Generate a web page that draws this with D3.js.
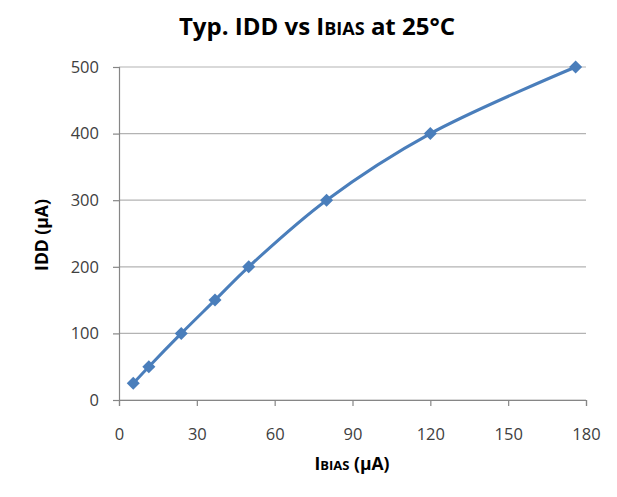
<!DOCTYPE html>
<html>
<head>
<meta charset="utf-8">
<script src="https://cdn.jsdelivr.net/npm/d3@7"></script>
<style>
body { margin: 0; background: #fff; }
text { font-family: "Open Sans", "Liberation Sans", sans-serif; }
</style>
</head>
<body>
<svg id="chart"></svg>
<script>
// data
var ibias = [5.5, 11.5, 24, 37, 50, 80, 120, 176];
var idd = [25, 50, 100, 150, 200, 300, 400, 500];
var xTicks = [0, 30, 60, 90, 120, 150, 180];
var yTicks = [0, 100, 200, 300, 400, 500];

var width = 617, height = 497;
var margin = {left: 119, right: 31, top: 67, bottom: 97};
var blue = "#4a7ebb";

var svg = d3.select("#chart")
    .attr("width", width)
    .attr("height", height);

var x = d3.scaleLinear().domain([0, 180]).range([margin.left, width - margin.right]);
var y = d3.scaleLinear().domain([0, 500]).range([height - margin.bottom, margin.top]);

// gridlines
svg.append("g")
    .selectAll("line")
    .data(yTicks)
    .enter()
    .append("line")
    .attr("x1", x(0))
    .attr("x2", x(180))
    .attr("y1", function (d) { return y(d); })
    .attr("y2", function (d) { return y(d); })
    .attr("stroke", "#b3b3b3")
    .attr("stroke-width", 1.2);

// y axis
var yAxis = svg.append("g")
    .attr("transform", "translate(" + x(0) + ",0)")
    .call(d3.axisLeft(y).tickValues(yTicks).tickSize(6).tickPadding(14));
// x axis
var xAxis = svg.append("g")
    .attr("transform", "translate(0," + y(0) + ")")
    .call(d3.axisBottom(x).tickValues(xTicks).tickSize(6).tickPadding(22));

[xAxis, yAxis].forEach(function (ax) {
    ax.select(".domain").attr("stroke", "#868686").attr("stroke-width", 1.2);
    ax.selectAll(".tick line").attr("stroke", "#868686").attr("stroke-width", 1.2);
    ax.selectAll(".tick text")
        .attr("fill", "#404040")
        .style("font-size", "16.5px")
        .style("font-family", "'Open Sans', sans-serif");
});

// curve
var pts = ibias.map(function (v, i) { return [v, idd[i]]; });
var line = d3.line()
    .x(function (d) { return x(d[0]); })
    .y(function (d) { return y(d[1]); })
    .curve(d3.curveCatmullRom.alpha(0.5));

svg.append("path")
    .datum(pts)
    .attr("d", line)
    .attr("fill", "none")
    .attr("stroke", blue)
    .attr("stroke-width", 3);

// diamond markers
svg.append("g")
    .selectAll("path")
    .data(pts)
    .enter()
    .append("path")
    .attr("d", d3.symbol().type(d3.symbolSquare).size(85))
    .attr("transform", function (d) {
        return "translate(" + x(d[0]) + "," + y(d[1]) + ") rotate(45)";
    })
    .attr("fill", blue);

// title
var title = svg.append("text")
    .attr("x", 317)
    .attr("y", 35)
    .attr("text-anchor", "middle")
    .style("font-size", "24px")
    .style("font-weight", "bold")
    .attr("fill", "#000");
title.append("tspan").text("Typ. IDD vs I");
title.append("tspan").style("font-size", "18px").text("BIAS");
title.append("tspan").text(" at 25°C");

// axis titles
svg.append("text")
    .attr("transform", "translate(48,235) rotate(-90)")
    .attr("text-anchor", "middle")
    .style("font-size", "17.5px")
    .style("font-weight", "bold")
    .text("IDD (µA)");

var xl = svg.append("text")
    .attr("x", 352)
    .attr("y", 470)
    .attr("text-anchor", "middle")
    .style("font-size", "17.5px")
    .style("font-weight", "bold");
xl.append("tspan").text("I");
xl.append("tspan").style("font-size", "13px").text("BIAS");
xl.append("tspan").text(" (µA)");
</script>
</body>
</html>
